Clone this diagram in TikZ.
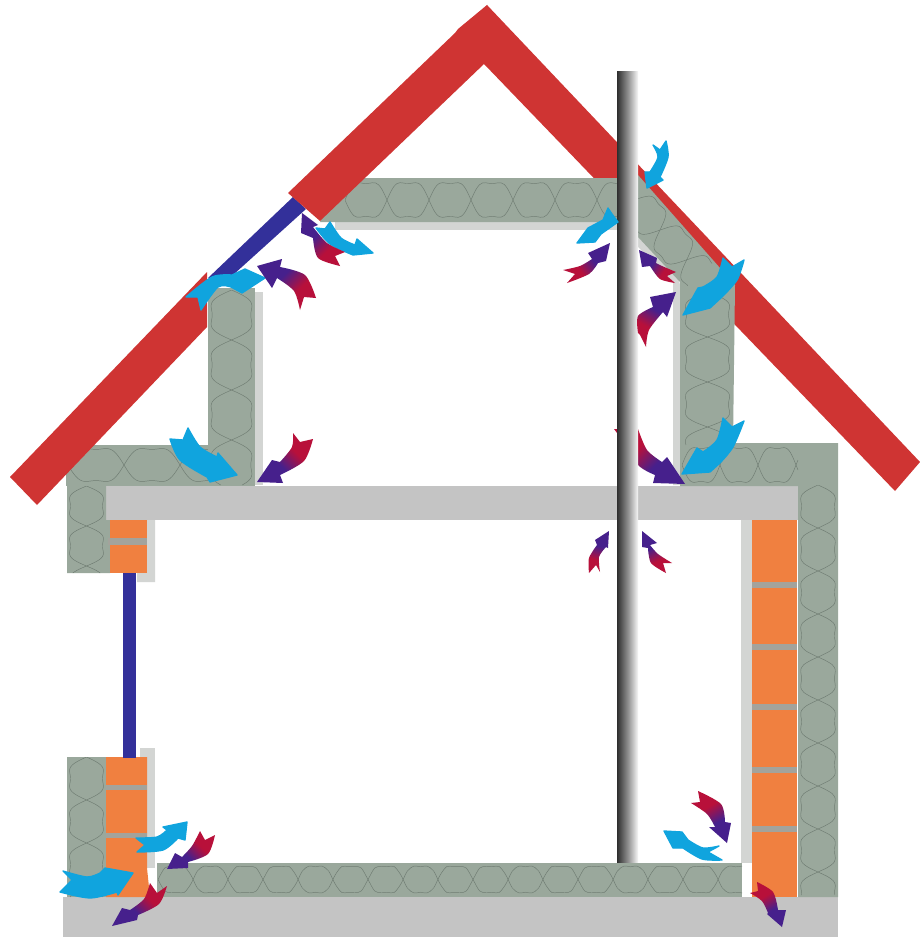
\documentclass[tikz,border=0pt]{standalone}
\definecolor{roofred}{HTML}{CF3433}
\definecolor{insul}{HTML}{9AA89C}
\definecolor{insline}{HTML}{6F7C72}
\definecolor{slab}{HTML}{C4C4C4}
\definecolor{plaster}{HTML}{D3D5D3}
\definecolor{brick}{HTML}{F08040}
\definecolor{mortar}{HTML}{A3A39C}
\definecolor{navy}{HTML}{33309A}
\definecolor{skyb}{HTML}{10A4DE}
\definecolor{crim}{HTML}{B8103A}
\definecolor{purp}{HTML}{46208C}
\pgfdeclarehorizontalshading{heat}{100bp}{color(0bp)=(crim); color(39bp)=(crim); color(58bp)=(purp); color(100bp)=(purp)}
\tikzset{
  roof/.style={fill=roofred},
  ins/.style={fill=insul},
  slabf/.style={fill=slab},
  plast/.style={fill=plaster},
  brk/.style={fill=brick},
  mort/.style={fill=mortar},
  win/.style={fill=navy},
  cold/.style={fill=skyb,draw=skyb,line width=1pt,line join=round},
  hot/.style={shading=heat,shading angle=#1},
  blob/.style={draw=insline,line width=0.35pt}
}
\newcommand{\chain}[6]{%
  \begin{scope}[shift={(#1,#2)},rotate=#3]
    \clip (0,0) rectangle (#4,#5);
    \draw[blob] plot[smooth,domain=0:#4,samples=90] (\x,{#5*0.5+#5*0.5*(sin(\x/#6*360)+0.18*sin(\x/#6*1080))});
    \draw[blob] plot[smooth,domain=0:#4,samples=90] (\x,{#5*0.5-#5*0.5*(sin(\x/#6*360)+0.18*sin(\x/#6*1080))});
  \end{scope}}
\begin{document}
\begin{tikzpicture}[x=0.75pt,y=-0.75pt]
\useasboundingbox (0,0) rectangle (920,938);
\fill[white] (0,0) rectangle (920,938);
% right roof arm
\path[roof] (487,5) -- (920,462) -- (895,491) -- (484,64) -- cycle;
% base slab, floor slab
\path[slabf] (63,897) rectangle (838,937);
\path[slabf] (106,486) rectangle (798,520);
% plaster
\path[plast] (335,222) rectangle (617,230);
\path[plast] (255,292) rectangle (263,485);
\path[plast] (638,230) -- (677,270) -- (680,285) -- (680,485) -- (673,485) -- (673,282) -- (638,247) -- cycle;
\path[plast] (147,520) -- (155,520) -- (155,582) -- (137,582) -- (137,573) -- (147,573) -- cycle;
\path[plast] (140,748) rectangle (155,868);
\path[plast] (741,520) rectangle (752,863);
% insulation
\path[ins] (320,222) -- (340,178) -- (617,178) -- (617,222) -- cycle;
\chain{345}{180}{0}{272}{40}{84}
\path[ins] (638,175) -- (735,285) -- (733,443) -- (838,443) -- (838,897) -- (798,897) -- (798,486) -- (680,486) -- (680,282) -- (638,237) -- cycle;
\chain{648}{187}{-48}{100}{40}{80}
\chain{733}{292}{-90}{153}{51}{90}
\chain{682}{445}{0}{116}{40}{76}
\chain{838}{485}{-90}{410}{40}{86}
\path[ins] (66,445) rectangle (208,486);
\chain{68}{446}{0}{140}{38}{112}
\path[ins] (208,288) rectangle (255,486);
\chain{255}{290}{-90}{195}{47}{100}
\path[ins] (67,486) -- (106,486) -- (106,520) -- (110,520) -- (110,573) -- (67,573) -- cycle;
\chain{106}{486}{-90}{87}{39}{80}
\path[ins] (67,757) rectangle (106,897);
\chain{106}{757}{-90}{140}{39}{86}
\path[ins] (157,863) rectangle (742,897);
\chain{158}{864}{0}{584}{31}{70}
% bricks
\path[brk] (110,520) rectangle (147,573);
\path[mort] (108,538) rectangle (147,545);
\path[brk] (106,757) -- (147,757) -- (147,868) -- (150,897) -- (106,897) -- cycle;
\path[mort] (106,785) rectangle (147,790);
\path[mort] (106,833) rectangle (147,838);
\path[brk] (752,520) rectangle (797,897);
\foreach \yy in {582,644,704,767,826}{\path[mort] (752,\yy) rectangle (797,\yy+6);}
% windows and roof
\path[win] (123,573) rectangle (136,758);
\path[roof] (10,477) -- (207,272) -- (207,327) -- (37,505) -- cycle;
\path[win] (293,197) -- (306,209) -- (233,275) -- (208,278) -- cycle;
\path[roof] (288,193) -- (455,33) -- (458,29) -- (487,5) -- (500,30) -- (484,64) -- (320,221) -- cycle;
% arrow passing behind the flue
\path[hot=-45] (614,429) -- (638,429) -- plot[smooth] coordinates {(638,429) (647,450) (662,462)} -- (667,457) -- (685,484) -- (653,483) -- plot[smooth] coordinates {(655,475) (638,465) (620,437)} -- cycle;
% flue
\path[shade,left color=black!82,right color=black!3,middle color=black!45] (617,72) rectangle (638,862);
% blue arrows
\path[cold] (330,222) -- (325,229) -- plot[smooth] coordinates {(316,228) (330,244) (353,255)} -- (373,253) -- (357,239) -- plot[smooth] coordinates {(355,245) (341,238) (330,222)} -- cycle;
\path[cold] plot[smooth] coordinates {(186,297) (212,277) (232,275)} -- (245,269) -- (265,278) -- (242,293) -- plot[smooth] coordinates {(231,287) (218,287) (201,310)} -- (198,297) -- cycle;
\path[cold] (653,145) -- (660,150) -- plot[smooth] coordinates {(666,141) (668,157) (660,177)} -- (663,180) -- (647,188) -- (645,172) -- plot[smooth] coordinates {(650,172) (658,157) (653,145)} -- cycle;
\path[cold] (608,208) -- (612,214) -- (618,222) -- (601,234) -- (595,242) -- (577,243) -- (588,228) -- (603,220) -- cycle;
\path[cold] (723,258) -- (732,267) -- plot[smooth] coordinates {(744,260) (737,280) (722,297)} -- (710,308) -- (683,315) -- (698,288) -- plot[smooth] coordinates {(703,287) (717,277) (723,258)} -- cycle;
\path[cold] (723,418) -- (732,427) -- plot[smooth] coordinates {(744,421) (733,447) (720,463)} -- (710,472) -- (682,474) -- (697,448) -- plot[smooth] coordinates {(703,452) (717,440) (723,418)} -- cycle;
\path[cold] (170,439) -- plot[smooth] coordinates {(170,439) (180,460) (207,477)} -- (210,482) -- (237,475) -- (218,453) -- plot[smooth] coordinates {(217,457) (200,447) (188,428)} -- (183,440) -- cycle;
\path[cold] (664,831) -- (682,832) -- plot[smooth] coordinates {(688,840) (703,848) (719,846)} -- (708,852) -- plot[smooth] coordinates {(722,860) (702,859) (683,848)} -- (673,848) -- cycle;
\path[cold] plot[smooth] coordinates {(136,838) (157,837) (167,830)} -- (163,827) -- (187,822) -- (185,840) -- plot[smooth] coordinates {(178,838) (163,850) (137,852)} -- (145,845) -- cycle;
\path[cold] plot[smooth] coordinates {(63,871) (87,877) (100,873)} -- (105,868) -- (133,873) -- (118,895) -- plot[smooth] coordinates {(117,892) (90,898) (60,892)} -- (72,880) -- cycle;
% hot arrows
\path[hot=135] (345,252) -- (335,256) -- plot[smooth] coordinates {(340,266) (318,258) (313,238)} -- (301,233) -- (302,213) -- (318,225) -- plot[smooth] coordinates {(313,227) (327,243) (345,252)} -- cycle;
\path[hot=135] (316,298) -- (304,297) -- plot[smooth] coordinates {(300,310) (294,291) (277,278)} -- (272,288) -- (257,266) -- (282,259) -- plot[smooth] coordinates {(280,267) (305,275) (316,298)} -- cycle;
\path[hot=35] (563,270) -- (575,274) -- plot[smooth] coordinates {(567,283) (589,274) (598,263)} -- (606,261) -- (610,243) -- (588,253) -- plot[smooth] coordinates {(592,259) (580,266) (563,270)} -- cycle;
\path[hot=145] plot[smooth] coordinates {(676,272) (662,266) (656,263)} -- (657,258) -- (639,250) -- (642,267) -- plot[smooth] coordinates {(650,266) (660,279) (675,283)} -- (667,276) -- cycle;
\path[hot=60] (638,333) -- (640,335) -- plot[smooth] coordinates {(646,347) (649,330) (663,312)} -- (667,317) -- (676,292) -- (650,297) -- plot[smooth] coordinates {(653,307) (638,316) (638,333)} -- cycle;
\path[hot=75] (589,573) -- (596,565) -- plot[smooth] coordinates {(600,572) (599,557) (606,547)} -- (608,548) -- (609,531) -- (595,540) -- plot[smooth] coordinates {(597,545) (589,558) (589,573)} -- cycle;
\path[hot=115] (672,563) -- (663,563) -- plot[smooth] coordinates {(666,573) (651,563) (648,548)} -- (642,547) -- (642,531) -- (657,543) -- plot[smooth] coordinates {(650,545) (658,554) (672,563)} -- cycle;
\path[hot=-135] (293,433) -- (300,442) -- plot[smooth] coordinates {(313,439) (304,461) (280,475)} -- (283,483) -- (257,482) -- (272,460) -- plot[smooth] coordinates {(280,462) (292,447) (293,433)} -- cycle;
\path[hot=-60] plot[smooth] coordinates {(698,791) (721,804) (725,822)} -- (731,823) -- (727,843) -- (709,827) -- plot[smooth] coordinates {(715,827) (707,814) (691,803)} -- (700,802) -- cycle;
\path[hot=-60] plot[smooth] coordinates {(757,882) (773,892) (778,910)} -- (786,910) -- (782,927) -- (767,914) -- plot[smooth] coordinates {(768,913) (762,901) (750,893)} -- (758,891) -- cycle;
\path[hot=-135] (200,831) -- (205,840) -- plot[smooth] coordinates {(215,835) (208,854) (188,862)} -- (188,868) -- (167,869) -- (175,853) -- plot[smooth] coordinates {(182,857) (192,846) (200,831)} -- cycle;
\path[hot=-135] (150,883) -- (157,893) -- plot[smooth] coordinates {(167,886) (159,904) (138,915)} -- (137,920) -- (112,926) -- (122,908) -- plot[smooth] coordinates {(130,910) (144,899) (150,883)} -- cycle;
\end{tikzpicture}
\end{document}
